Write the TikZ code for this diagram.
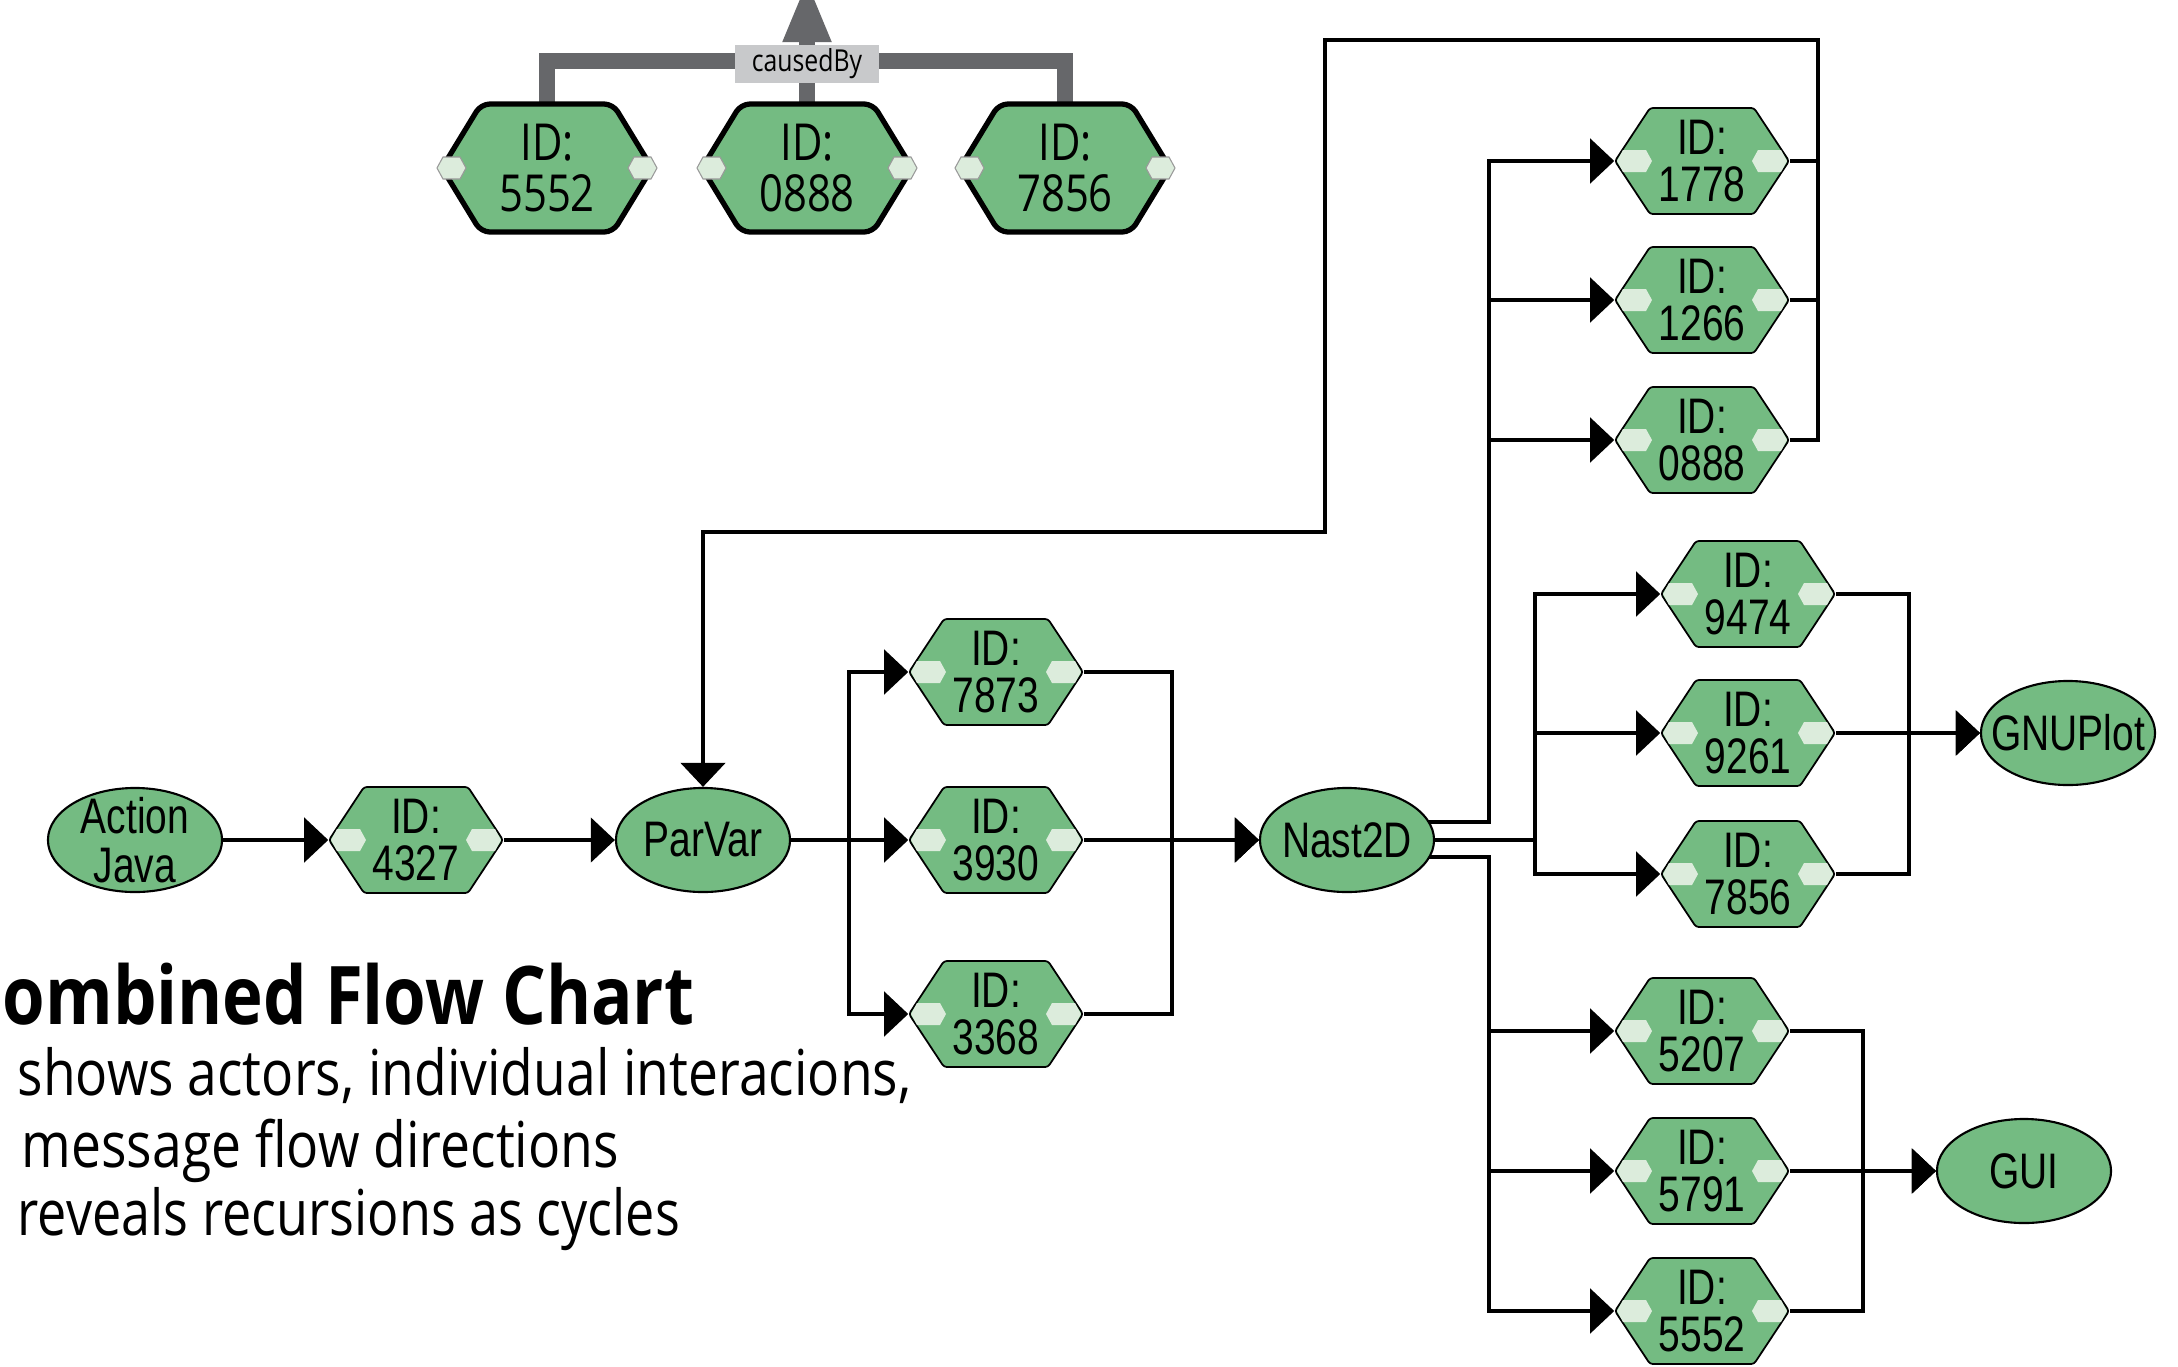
\documentclass[tikz,border=0pt]{standalone}
\usepackage{fontspec}
\usetikzlibrary{shapes.geometric,arrows.meta,backgrounds,calc}

\newfontfamily\lblfont[FakeStretch=0.78]{Liberation Sans}
\newfontfamily\humfont[FakeStretch=0.82]{Open Sans}

\definecolor{nodegreen}{RGB}{116,187,130}
\definecolor{portgreen}{RGB}{220,236,220}
\definecolor{relgray}{RGB}{102,103,106}
\definecolor{boxgray}{RGB}{200,201,203}

\tikzset{
  conn/.style={draw=black, line width=1.3pt},
  flow/.style={conn, -{Triangle[length=0.24cm,width=0.44cm]}},
  rel/.style={draw=relgray, line width=0.16cm},
  hexbody/.style={fill=nodegreen, draw=black, line width=0.5pt, rounded corners=0.8pt},
  hexport/.style={fill=portgreen},
  hexlabel/.style={shape=rectangle, minimum width=1.74cm, minimum height=1.06cm,
    inner sep=0pt, align=center, font=\lblfont\fontsize{14.2}{13.6}\selectfont},
  bighex/.style={fill=nodegreen, draw=black, line width=1.5pt, rounded corners=2.5pt},
  bigport/.style={fill=portgreen, draw=gray!80, line width=0.3pt},
  biglabel/.style={shape=rectangle, minimum width=2.11cm, minimum height=1.28cm,
    inner sep=0pt, align=center, font=\humfont\fontsize{14.5}{14.6}\selectfont},
  actor/.style={ellipse, fill=nodegreen, draw=black, line width=0.6pt,
    minimum width=1.74cm, minimum height=1.04cm, inner sep=0pt},
  actorlabel/.style={align=center, inner sep=0pt, font=\lblfont\fontsize{14.2}{14}\selectfont},
  relbox/.style={fill=boxgray, minimum width=1.44cm, minimum height=0.37cm, inner sep=0pt,
    font=\humfont\fontsize{8.6}{9}\selectfont},
  prose/.style={anchor=base west, inner sep=0pt}
}

% interaction node: name, x, y, id
\newcommand\idhex[4]{%
  \path[hexbody] (#2-87,#3) -- (#2-52,#3-53) -- (#2+52,#3-53) -- (#2+87,#3)
     -- (#2+52,#3+53) -- (#2-52,#3+53) -- cycle;
  \path[hexport] (#2-85,#3) -- (#2-79,#3-11) -- (#2-56,#3-11) -- (#2-50,#3)
     -- (#2-56,#3+11) -- (#2-79,#3+11) -- cycle;
  \path[hexport] (#2+85,#3) -- (#2+79,#3-11) -- (#2+56,#3-11) -- (#2+50,#3)
     -- (#2+56,#3+11) -- (#2+79,#3+11) -- cycle;
  \node[hexlabel] (#1) at (#2,#3) {ID:\\#4};
}

% larger interaction node of the causedBy group: name, x, y, id
\newcommand\causehex[4]{%
  \path[bighex] (#2-105,#3) -- (#2-66,#3-64) -- (#2+66,#3-64) -- (#2+105,#3)
     -- (#2+66,#3+64) -- (#2-66,#3+64) -- cycle;
  \path[bigport] (#2-110,#3) -- (#2-104,#3-11) -- (#2-87,#3-11) -- (#2-81,#3)
     -- (#2-87,#3+11) -- (#2-104,#3+11) -- cycle;
  \path[bigport] (#2+110,#3) -- (#2+104,#3-11) -- (#2+87,#3-11) -- (#2+81,#3)
     -- (#2+87,#3+11) -- (#2+104,#3+11) -- cycle;
  \node[biglabel] (#1) at (#2,#3) {ID:\\#4};
}

% actor: name, x, y, text
\newcommand\actor[4]{%
  \node[actor, label={[actorlabel]center:{#4}}] (#1) at (#2,#3) {};
}

\begin{document}
\begin{tikzpicture}[x=0.01cm, y=-0.01cm]
\useasboundingbox (0,0) rectangle (2178,1366);

% causedBy group
\causehex{t5552}{547}{168}{5552}
\causehex{t0888}{807}{168}{0888}
\causehex{t7856}{1065}{168}{7856}
\coordinate (cbbar) at (807,61);
\coordinate (cbtip) at (807,-21);
\node[relbox] (cb) at (807,64) {causedBy};

% actors
\actor{aj}{135}{840}{Action\\Java}
\actor{pv}{703}{840}{ParVar}
\actor{nast}{1347}{840}{Nast2D}
\actor{gnu}{2068}{733}{GNUPlot}
\actor{gui}{2024}{1171}{GUI}

% interactions
\idhex{h4327}{416}{840}{4327}
\idhex{h7873}{996}{672}{7873}
\idhex{h3930}{996}{840}{3930}
\idhex{h3368}{996}{1014}{3368}
\idhex{h1778}{1702}{161}{1778}
\idhex{h1266}{1702}{300}{1266}
\idhex{h0888}{1702}{440}{0888}
\idhex{h9474}{1748}{594}{9474}
\idhex{h9261}{1748}{733}{9261}
\idhex{h7856}{1748}{874}{7856}
\idhex{h5207}{1702}{1031}{5207}
\idhex{h5791}{1702}{1171}{5791}
\idhex{h5552}{1702}{1311}{5552}

% bus lines and bends
\coordinate (busA) at (849,0);
\coordinate (busB) at (1172,0);
\coordinate (busC) at (1489,0);
\coordinate (busD) at (1535,0);
\coordinate (busE) at (1909,0);
\coordinate (busF) at (1863,0);
\coordinate (loopA) at (1818,40);
\coordinate (loopB) at (1325,40);
\coordinate (loopC) at (1325,532);
\coordinate (nup) at ($(nast.center)+(60,-18)$);
\coordinate (nlow) at ($(nast.center)+(60,17)$);

\begin{scope}[on background layer]
  \fill[white] (0,0) rectangle (2178,1366);
  % causedBy relation
  \draw[rel] (t5552.north) -- (t5552.north |- cbbar) -- (t7856.north |- cbbar) -- (t7856.north);
  \draw[rel, -{Triangle[length=0.63cm,width=0.44cm]}] (t0888.north) -- (cbtip);

  % message flow
  \draw[flow] (aj.east) -- (h4327.west);
  \draw[flow] (h4327.east) -- (pv.west);
  \draw[flow] (pv.east) -- (h3930.west);
  \draw[flow] (pv.east) -- (pv.east -| busA) |- (h7873.west);
  \draw[flow] (pv.east) -- (pv.east -| busA) |- (h3368.west);
  \draw[flow] (h3930.east) -- (nast.west);
  \draw[flow] (h7873.east) -- (h7873.east -| busB) |- (nast.west);
  \draw[flow] (h3368.east) -- (h3368.east -| busB) |- (nast.west);

  \draw[flow] (nup) -- (nup -| busC) |- (h1778.west);
  \draw[flow] (nup) -- (nup -| busC) |- (h1266.west);
  \draw[flow] (nup) -- (nup -| busC) |- (h0888.west);

  \draw[flow] (nast.east) -- (nast.east -| busD) |- (h9474.west);
  \draw[flow] (nast.east) -- (nast.east -| busD) |- (h9261.west);
  \draw[flow] (nast.east) -- (nast.east -| busD) |- (h7856.west);

  \draw[flow] (nlow) -- (nlow -| busC) |- (h5207.west);
  \draw[flow] (nlow) -- (nlow -| busC) |- (h5791.west);
  \draw[flow] (nlow) -- (nlow -| busC) |- (h5552.west);

  % recursion back to ParVar
  \draw[flow] (h0888.east) -- (h0888.east -| loopA) -- (loopA) -- (loopB) -- (loopC) -| (pv.north);
  \draw[conn] (h1778.east) -- (h1778.east -| loopA);
  \draw[conn] (h1266.east) -- (h1266.east -| loopA);

  % into GNUPlot
  \draw[flow] (h9261.east) -- (gnu.west);
  \draw[flow] (h9474.east) -- (h9474.east -| busE) |- (gnu.west);
  \draw[flow] (h7856.east) -- (h7856.east -| busE) |- (gnu.west);

  % into GUI
  \draw[flow] (h5791.east) -- (gui.west);
  \draw[flow] (h5207.east) -- (h5207.east -| busF) |- (gui.west);
  \draw[flow] (h5552.east) -- (h5552.east -| busF) |- (gui.west);
\end{scope}

% caption
\node[prose] (title) at (2,1024)
  {\resizebox{6.91cm}{\height}{\humfont\bfseries\fontsize{23}{23}\selectfont ombined Flow Chart}};
\node[prose] (line1) at (17,1095)
  {\resizebox{8.93cm}{\height}{\humfont\fontsize{18}{18}\selectfont shows actors, individual interacions,}};
\node[prose] (line2) at (21,1167)
  {\resizebox{5.97cm}{\height}{\humfont\fontsize{18}{18}\selectfont message flow directions}};
\node[prose] (line3) at (17,1235)
  {\resizebox{6.62cm}{\height}{\humfont\fontsize{18}{18}\selectfont reveals recursions as cycles}};
\end{tikzpicture}
\end{document}
